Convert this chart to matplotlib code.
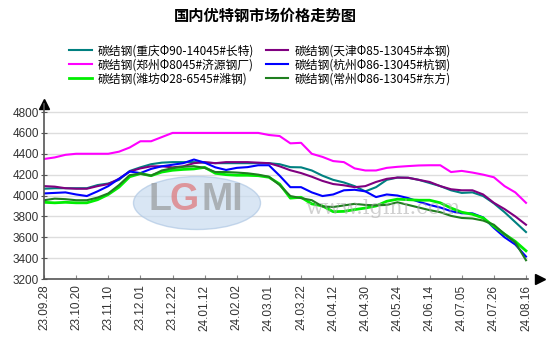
import matplotlib
matplotlib.use('Agg')
import matplotlib.pyplot as plt
from matplotlib.patches import Ellipse
import numpy as np

plt.rcParams['font.family'] = ['Noto Sans CJK SC', 'DejaVu Sans']

# weekly points, a tick label every third week
tick_labels = ['23.09.28', '23.10.20', '23.11.10', '23.12.01', '23.12.22', '24.01.12',
               '24.02.02', '24.03.01', '24.03.22', '24.04.12', '24.04.30', '24.05.24',
               '24.06.14', '24.07.05', '24.07.26', '24.08.16']

names = ['碳结钢(重庆Φ90-14045#长特)', '碳结钢(天津Φ85-13045#本钢)',
         '碳结钢(郑州Φ8045#济源钢厂)', '碳结钢(杭州Φ86-13045#杭钢)',
         '碳结钢(潍坊Φ28-6545#潍钢)', '碳结钢(常州Φ86-13045#东方)']

chongqing = [4065, 4070, 4070, 4070, 4070, 4100, 4115, 4150, 4235, 4270, 4300, 4315,
             4320, 4320, 4320, 4315, 4310, 4310, 4310, 4310, 4310, 4310, 4300, 4272,
             4270, 4240, 4190, 4150, 4125, 4090, 4040, 4080, 4150, 4172, 4170, 4150,
             4120, 4090, 4050, 4025, 4030, 3995, 3925, 3840, 3745, 3650]
tianjin = [4090, 4085, 4070, 4065, 4065, 4090, 4110, 4160, 4230, 4260, 4280, 4280,
           4270, 4280, 4310, 4320, 4310, 4320, 4320, 4320, 4315, 4310, 4280, 4242,
           4215, 4180, 4140, 4110, 4098, 4080, 4090, 4130, 4160, 4172, 4170, 4150,
           4130, 4090, 4060, 4050, 4050, 4010, 3930, 3870, 3800, 3720]
zhengzhou = [4350, 4365, 4390, 4400, 4400, 4400, 4400, 4420, 4460, 4520, 4520, 4560,
             4600, 4600, 4600, 4600, 4600, 4600, 4600, 4600, 4600, 4580, 4570, 4500,
             4505, 4400, 4370, 4330, 4320, 4260, 4240, 4240, 4265, 4275, 4282, 4288,
             4290, 4290, 4225, 4236, 4220, 4200, 4175, 4090, 4030, 3930]
hangzhou = [4020, 4025, 4030, 4010, 3995, 4040, 4090, 4160, 4230, 4215, 4255, 4280,
            4295, 4310, 4345, 4315, 4270, 4245, 4265, 4272, 4290, 4290, 4190, 4080,
            4080, 4030, 3995, 4010, 4050, 4055, 4040, 3985, 4010, 4000, 3975, 3940,
            3910, 3885, 3850, 3830, 3829, 3790, 3690, 3600, 3530, 3415]
weifang = [3935, 3930, 3935, 3930, 3930, 3960, 4010, 4080, 4180, 4210, 4190, 4225,
           4242, 4250, 4255, 4270, 4213, 4200, 4194, 4194, 4190, 4175, 4110, 3975,
           3983, 3920, 3900, 3845, 3848, 3865, 3880, 3900, 3945, 3965, 3960, 3955,
           3955, 3930, 3880, 3840, 3820, 3785, 3705, 3630, 3560, 3470]
changzhou = [3955, 3970, 3965, 3955, 3955, 3980, 4020, 4100, 4195, 4210, 4190, 4240,
             4262, 4275, 4281, 4265, 4225, 4225, 4220, 4213, 4200, 4180, 4100, 3995,
             3975, 3955, 3895, 3890, 3905, 3920, 3910, 3906, 3910, 3935, 3910, 3885,
             3860, 3840, 3805, 3785, 3780, 3760, 3720, 3630, 3550, 3380]

series = [chongqing, tianjin, zhengzhou, hangzhou, weifang, changzhou]
colors = ['#008080', '#800080', '#ff00ff', '#0000ff', '#00ee00', '#1f7f1f']
widths = [1.5, 1.5, 1.5, 1.5, 2.0, 1.5]

W, H = 554, 352
fig = plt.figure(figsize=(W / 100, H / 100), dpi=100)
ax = fig.add_axes([44 / W, 1 - 279 / H, 484 / W, 175 / H])

# watermark
fig.patches.append(Ellipse((197 / W, 1 - 203 / H), 127 / W, 53 / H, transform=fig.transFigure,
                           facecolor='#c9dcf0', edgecolor='#b0c8e4', alpha=0.7, zorder=0))
wm = dict(ha='center', va='center', fontsize=27, fontweight='bold', alpha=0.6,
          family='Liberation Sans', zorder=0)
fig.text(160 / W, 1 - 200 / H, 'L', color='#8c8c8c', **wm)
fig.text(184 / W, 1 - 200 / H, 'G', color='#e06060', **wm)
fig.text(222 / W, 1 - 200 / H, 'MI', color='#8c8c8c', **wm)
fig.text(383 / W, 1 - 208 / H, 'www.lgmi.com', ha='center', va='center', fontsize=15,
         color='#aaaaaa', alpha=0.55, family='DejaVu Serif', zorder=0)

x = np.arange(len(chongqing))
lines = []
for y, c, lw, n in zip(series, colors, widths, names):
    l, = ax.plot(x, y, color=c, lw=lw, label=n, solid_joinstyle='round')
    lines.append(l)

ax.set_xlim(0, 45 * 484 / 482)
ax.set_ylim(3200, 4877)
ax.set_yticks(range(3200, 4801, 200))
ax.set_xticks(x[::3])
ax.set_xticklabels(tick_labels, rotation=90, family='Liberation Sans', fontsize=8.5, color='#333333')
for t in ax.get_yticklabels():
    t.set_family('Liberation Sans')
ax.tick_params(axis='y', labelsize=8.5, direction='inout', length=5, colors='#555555', labelcolor='#333333', pad=1)
ax.tick_params(axis='x', direction='in', length=3, colors='#888888', labelcolor='#333333', pad=4)
ax.grid(axis='y', color='#dddddd', lw=1)
ax.set_axisbelow(True)
ax.patch.set_alpha(0)
for s in ['top', 'right']:
    ax.spines[s].set_visible(False)
for s in ['left', 'bottom']:
    ax.spines[s].set_color('#555555')
    ax.spines[s].set_linewidth(1.2)
ax.plot(1.025, 0, '>', color='black', ms=7, transform=ax.transAxes, clip_on=False)
ax.plot(0, 1, '^', color='black', ms=7, transform=ax.transAxes, clip_on=False)

fig.text(265 / W, 1 - 16 / H, '国内优特钢市场价格走势图', ha='center', va='center',
         fontsize=11, fontweight='bold')

order = [0, 2, 4, 1, 3, 5]
fig.legend([lines[i] for i in order], [names[i] for i in order], ncol=2, frameon=False,
           loc='upper center', bbox_to_anchor=(260 / W, 1 - 36 / H), fontsize=8.5,
           handlelength=1.9, handletextpad=0.5, columnspacing=1.0, labelspacing=0.08,
           borderpad=0.2)

fig.savefig('out.png', dpi=100)
